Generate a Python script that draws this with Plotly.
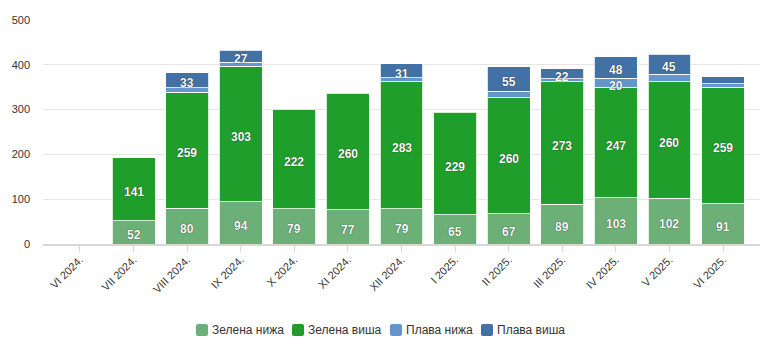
import plotly.graph_objects as go

categories = ["VI 2024.", "VII 2024.", "VIII 2024.", "IX 2024.", "X 2024.", "XI 2024.",
              "XII 2024.", "I 2025.", "II 2025.", "III 2025.", "IV 2025.", "V 2025.", "VI 2025."]
zelena_nizha = [None, 52, 80, 94, 79, 77, 79, 65, 67, 89, 103, 102, 91]
zelena_visha = [None, 141, 259, 303, 222, 260, 283, 229, 260, 273, 247, 260, 259]
plava_nizha = [None, None, 10, 9, None, None, 9, None, 14, 7, 20, 17, 8]
plava_visha = [None, None, 33, 27, None, None, 31, None, 55, 22, 48, 45, 15]

series = [
    ("Зелена нижа", zelena_nizha, "#6cb077"),
    ("Зелена виша", zelena_visha, "#1f9e2c"),
    ("Плава нижа", plava_nizha, "#6495cd"),
    ("Плава виша", plava_visha, "#4271a6"),
]
LABEL_MIN = 20
FONT = "Liberation Sans, Arial, sans-serif"

# plot area geometry (px) used to place the custom legend
W, H = 782, 352
ML, MR, MT, MB = 43, 22, 20, 108
PW, PH = W - ML - MR, H - MT - MB
legend_symbol_px = [196, 292, 390, 481]
legend_y_px = 330


def px_x(p):
    return (p - ML) / PW


def px_y(p):
    return (H - MB - p) / PH


fig = go.Figure()
base = [0] * len(categories)
annotations = []
shapes = []
for k, (name, vals, color) in enumerate(series):
    fig.add_trace(go.Bar(
        x=categories, y=vals, name=name, showlegend=False,
        marker=dict(color=color, line=dict(color="rgba(255,255,255,0.8)", width=1)),
        hoverinfo="x+y+name",
    ))
    for i, v in enumerate(vals):
        if v:
            if v >= LABEL_MIN:
                annotations.append(dict(
                    x=categories[i], y=base[i] + v / 2, xref="x", yref="y",
                    text=str(v), showarrow=False, yshift=-3,
                    font=dict(family=FONT, size=12, color="white", weight="bold",
                              shadow="0px 0px 1px rgba(0,0,0,0.9)"),
                ))
            base[i] += v
    # custom legend entry: rounded square + label
    sx = px_x(legend_symbol_px[k])
    sy = px_y(legend_y_px)
    r = 2
    path = (f"M {r},-6 L {12 - r},-6 Q 12,-6 12,{-6 + r} L 12,{6 - r} Q 12,6 {12 - r},6 "
            f"L {r},6 Q 0,6 0,{6 - r} L 0,{-6 + r} Q 0,-6 {r},-6 Z")
    shapes.append(dict(
        type="path", xref="paper", yref="paper", xsizemode="pixel", ysizemode="pixel",
        xanchor=sx, yanchor=sy, path=path, fillcolor=color, line=dict(width=0),
    ))
    annotations.append(dict(
        x=px_x(legend_symbol_px[k] + 14), y=sy, xref="paper", yref="paper",
        xanchor="left", yanchor="middle", showarrow=False, text=name,
        font=dict(family=FONT, size=12, color="#333333"),
    ))

fig.update_layout(
    barmode="stack",
    bargap=0.2,
    width=W, height=H,
    margin=dict(l=ML, r=MR, t=MT, b=MB),
    paper_bgcolor="white", plot_bgcolor="white",
    font=dict(family=FONT, size=11, color="#333333"),
    annotations=annotations,
    shapes=shapes,
    showlegend=False,
    xaxis=dict(
        type="category", range=[-0.69, 12.69],
        tickangle=-45, ticks="outside", ticklen=6, tickcolor="#ccd6eb",
        showline=True, linecolor="#d8d8d8", linewidth=2,
        showgrid=False, tickfont=dict(size=11, color="#333333"),
        ticklabelstandoff=-3,
    ),
    yaxis=dict(
        range=[0, 500], dtick=100, showgrid=True, gridcolor="#e6e6e6", gridwidth=1,
        zeroline=False, showline=False, ticks="",
        tickfont=dict(size=11, color="#333333"), ticklabelstandoff=12,
    ),
)

fig.write_html("out.html")
